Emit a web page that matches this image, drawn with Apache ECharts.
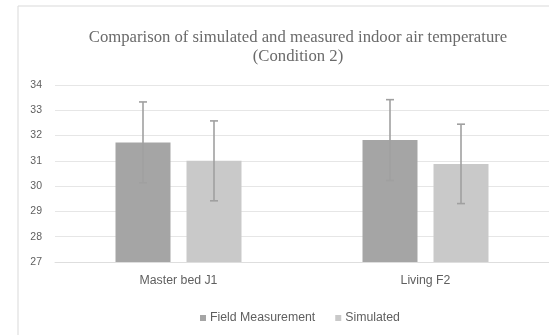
<!DOCTYPE html>
<html>
<head>
<meta charset="utf-8">
<script src="https://cdn.jsdelivr.net/npm/echarts@6/dist/echarts.min.js"></script>
<style>
  html, body { margin: 0; padding: 0; background: #fff; }
  #chart { width: 549px; height: 335px; }
</style>
</head>
<body>
<div id="chart"></div>
<script>
// Room categories
const rooms = ['Master bed J1', 'Living F2'];
// Mean indoor air temperature (°C)
const fieldMeasurement = [31.73, 31.82];
const simulated = [31.0, 30.88];
// Error bar half-ranges (°C)
const fieldError = [1.6, 1.6];
const simulatedError = [1.58, 1.57];
// Value axis ticks
const yMin = 27, yMax = 34, yStep = 1;

const BAR_W = 55;
const BAR_GAP = 16;
const FIELD_COLOR = '#a5a5a5';
const SIM_COLOR = '#c9c9c9';
const TEXT_COLOR = '#5f5f5f';

function errorSeries(values, errors, side) {
  return {
    type: 'custom',
    z: 5,
    silent: true,
    data: values.map((v, i) => [i, v - errors[i], v + errors[i]]),
    renderItem: function (params, api) {
      const lo = api.coord([api.value(0), api.value(1)]);
      const hi = api.coord([api.value(0), api.value(2)]);
      const dx = side * (BAR_W / 2 + BAR_GAP / 2);
      const x = lo[0] + dx;
      const cap = 4;
      const style = { stroke: '#a0a0a0', lineWidth: 1.6 };
      return {
        type: 'group',
        children: [
          { type: 'line', shape: { x1: x, y1: lo[1], x2: x, y2: hi[1] }, style: style },
          { type: 'line', shape: { x1: x - cap, y1: lo[1], x2: x + cap, y2: lo[1] }, style: style },
          { type: 'line', shape: { x1: x - cap, y1: hi[1], x2: x + cap, y2: hi[1] }, style: style }
        ]
      };
    }
  };
}

const chart = echarts.init(document.getElementById('chart'), null, { renderer: 'canvas' });
chart.setOption({
  animation: false,
  backgroundColor: '#fff',
  graphic: [{
    type: 'rect',
    shape: { x: 18, y: 6, width: 560, height: 360 },
    style: { fill: 'none', stroke: '#d9d9d9', lineWidth: 1 },
    z: -1
  }],
  title: {
    text: 'Comparison of simulated and measured indoor air temperature\n(Condition 2)',
    left: 293,
    top: 23,
    textAlign: 'center',
    textStyle: {
      fontFamily: 'Liberation Serif',
      fontWeight: 'normal',
      fontSize: 16.7,
      lineHeight: 19,
      color: '#6a6a6a'
    }
  },
  legend: {
    data: ['Field Measurement', 'Simulated'],
    left: 195,
    top: 307,
    itemWidth: 6,
    itemHeight: 6,
    itemGap: 20,
    icon: 'rect',
    textStyle: { fontFamily: 'Liberation Sans', fontSize: 12.3, color: TEXT_COLOR, padding: [0, 0, 0, -1] }
  },
  grid: { left: 55, top: 85, width: 496, height: 177 },
  xAxis: {
    type: 'category',
    data: rooms,
    axisLine: { show: true, lineStyle: { color: '#dedede' } },
    axisTick: { show: false },
    axisLabel: { fontFamily: 'Liberation Sans', fontSize: 12.3, color: TEXT_COLOR, margin: 13 }
  },
  yAxis: {
    type: 'value',
    min: yMin,
    max: yMax,
    interval: yStep,
    axisLine: { show: false },
    axisTick: { show: false },
    splitLine: { lineStyle: { color: '#e6e6e6' } },
    axisLabel: { fontFamily: 'Liberation Sans', fontSize: 10.5, color: TEXT_COLOR, margin: 13 }
  },
  series: [
    {
      name: 'Field Measurement',
      type: 'bar',
      data: fieldMeasurement,
      barWidth: BAR_W,
      barGap: (BAR_GAP / BAR_W * 100) + '%',
      itemStyle: { color: FIELD_COLOR }
    },
    {
      name: 'Simulated',
      type: 'bar',
      data: simulated,
      barWidth: BAR_W,
      itemStyle: { color: SIM_COLOR }
    },
    errorSeries(fieldMeasurement, fieldError, -1),
    errorSeries(simulated, simulatedError, 1)
  ]
});
</script>
</body>
</html>
